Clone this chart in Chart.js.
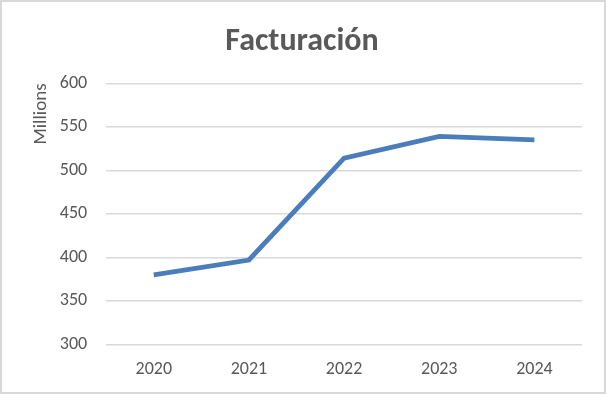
<!DOCTYPE html>
<html>
<head>
<meta charset="utf-8">
<script src="https://cdn.jsdelivr.net/npm/chart.js@4"></script>
<style>
html,body{margin:0;padding:0;background:#fff;}
#wrap{width:606px;height:394px;box-sizing:border-box;border:2px solid #d9d9d9;background:#fff;}
canvas{display:block;}
</style>
</head>
<body>
<div id="wrap"><canvas id="c" width="602" height="390"></canvas></div>
<script>
const chartTitle = "Facturación";
const categories = ["2020", "2021", "2022", "2023", "2024"];
const facturacion = [380, 397, 514, 539, 535];
const yTicks = [300, 350, 400, 450, 500, 550, 600];
const yUnitLabel = "Millions";

const font = "Calibri, Carlito, 'Open Sans', 'Liberation Sans', sans-serif";

new Chart(document.getElementById('c'), {
  type: 'line',
  data: {
    labels: categories,
    datasets: [{
      label: chartTitle,
      data: facturacion,
      borderColor: '#4a7ebb',
      borderWidth: 4.8,
      pointRadius: 0,
      tension: 0,
      fill: false
    }]
  },
  options: {
    responsive: false,
    animation: false,
    layout: { padding: { left: 20, right: 22, top: 7, bottom: 6 } },
    plugins: {
      legend: { display: false },
      tooltip: { enabled: false },
      title: {
        display: true,
        text: chartTitle,
        color: '#595959',
        font: { family: font, size: 32, weight: 'bold' },
        padding: { top: 14, bottom: 22 }
      }
    },
    scales: {
      x: {
        offset: true,
        grid: { display: false },
        border: { display: false },
        ticks: { color: '#595959', font: { family: font, size: 18 }, padding: 6 }
      },
      y: {
        min: yTicks[0],
        max: yTicks[yTicks.length - 1],
        afterBuildTicks: (s) => { s.ticks = yTicks.map(v => ({ value: v })); },
        grid: { color: '#d9d9d9', lineWidth: 1.5, drawTicks: false },
        border: { display: false },
        ticks: { color: '#595959', font: { family: font, size: 18 }, padding: 19 },
        title: {
          display: true,
          text: yUnitLabel,
          align: 'end',
          color: '#595959',
          font: { family: font, size: 19 },
          padding: { top: 8, bottom: -12 }
        }
      }
    }
  }
});
</script>
</body>
</html>
